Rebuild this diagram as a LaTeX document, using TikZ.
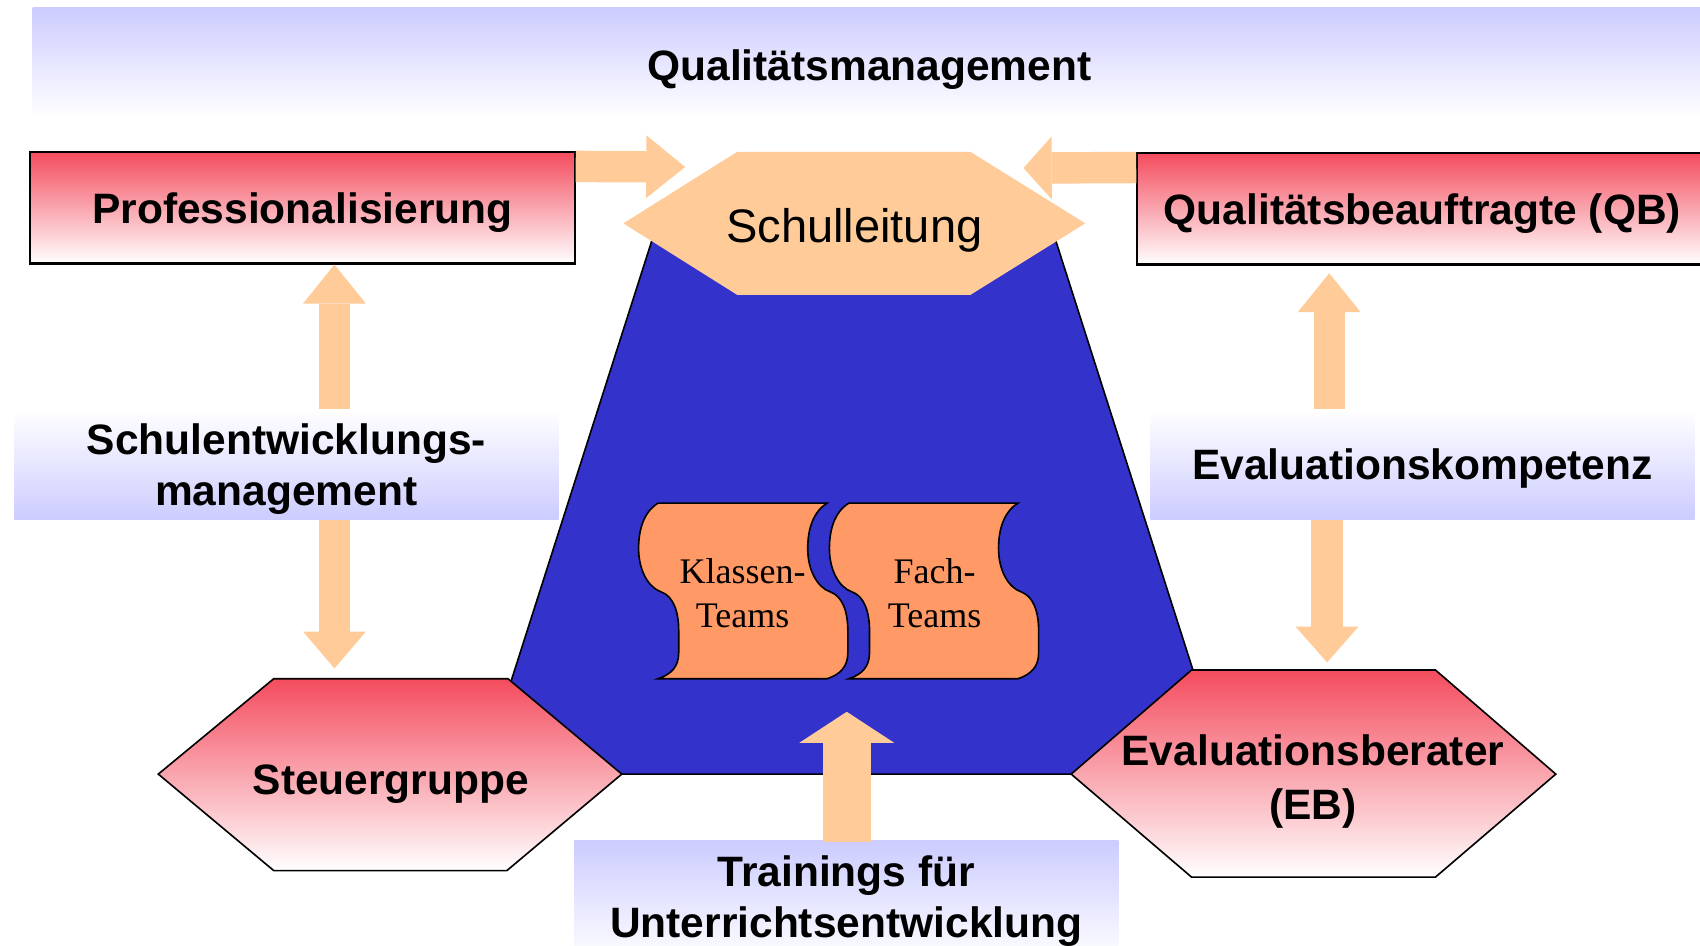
\documentclass[tikz,border=0pt]{standalone}
\usepackage{fontspec}
\newfontfamily\arialfont{Liberation Sans}
\newfontfamily\timesfont{Liberation Serif}
\usetikzlibrary{arrows.meta}

\definecolor{peach}{RGB}{255,204,153}
\definecolor{lavender}{RGB}{204,204,255}
\definecolor{redtop}{RGB}{244,76,94}
\definecolor{pyramidblue}{RGB}{51,51,204}
\definecolor{tapeorange}{RGB}{255,153,102}

\begin{document}
\begin{tikzpicture}[x=0.5pt, y=-0.5pt,
    boldtext/.style={font=\arialfont\bfseries\fontsize{19.6}{23.5}\selectfont},
    rolebox/.style={rectangle, draw=black, line width=1pt, top color=redtop, bottom color=white,
        minimum width=251pt, minimum height=51.5pt, inner sep=0pt, text height=16.5pt, text depth=2pt, boldtext},
    redhex/.style={draw=black, line width=0.75pt, top color=redtop, bottom color=white},
    fieldbox/.style={rectangle, inner sep=0pt, minimum width=251pt, minimum height=50.5pt, boldtext, align=center},
    flowarrow/.style={draw=peach, line width=14.5pt, -{Triangle[length=#1, width=29pt, line width=0pt]}},
    flowarrow/.default=18pt,
    tape/.style={draw=black, line width=0.75pt, fill=tapeorange},
    teamtext/.style={font=\timesfont\fontsize{16.6}{20.5}\selectfont, align=center},
   ]

    \fill[white] (0,0) rectangle (1568,872);
    \useasboundingbox (0,0) rectangle (1568,872);

    % band on top
    \shade[top color=lavender, bottom color=white] (30,7) rectangle (1580,108);
    \node (qm) [boldtext] at (802,64.5) {Qualitätsmanagement};

    % blue pyramid
    \filldraw[fill=pyramidblue, draw=black, line width=0.75pt] (606,207) -- (444,714) -- (1131,714) -- (969,207) -- cycle;

    % Schulleitung
    \fill[peach] (575,206) -- (680,140) -- (895,140) -- (1001,206) -- (895,272) -- (680,272) -- cycle;
    \node (sl) [font=\arialfont\fontsize{21.7}{26}\selectfont] at (788,212) {Schulleitung};

    % hexagons below
    \path[redhex] (146,714) -- (252.5,626) -- (468.5,626) -- (573.5,714) -- (467.5,803) -- (252.5,803) -- cycle;
    \node (sg) [boldtext] at (360.5,723) {Steuergruppe};
    \path[redhex] (988,714) -- (1099,618) -- (1324,618) -- (1435,714) -- (1324,809) -- (1099,809) -- cycle;
    \node (eb) [boldtext, font=\arialfont\bfseries\fontsize{19.6}{25}\selectfont, align=center] at (1211,720.5) {Evaluationsberater\\(EB)};

    % red boxes
    \node (prof) [rolebox] at (279,191.5) {Professionalisierung};
    \node (qb) [rolebox, minimum width=263pt] at (1312,192.5) {Qualitätsbeauftragte (QB)};

    % lavender fields
    \node (semBox) [fieldbox, top color=white, bottom color=lavender] at (264.25,428.5) {};
    \node (sem) [boldtext, align=center] at (264,433) {Schulentwicklungs-\\management};
    \node (eko) [fieldbox, top color=white, bottom color=lavender, text height=16pt, text depth=2.5pt] at (1312,428.5) {Evaluationskompetenz};
    \node (train) [fieldbox, top color=lavender, bottom color=white, minimum height=55.5pt] at (780.5,831) {Trainings für\\Unterrichtsentwicklung};

    % arrow tips
    \coordinate (profTip) at (632,154);
    \coordinate (qbTip) at (944,155);
    \coordinate (semCol) at (308.5,0);
    \coordinate (sgTip) at (308.5,616.5);
    \coordinate (qbUpTip) at (1226,252);
    \coordinate (ebTip) at (1224,611);
    \coordinate (trainTip) at (781,656.5);

    \draw[flowarrow] ([yshift=-7.25pt]prof.north east) -- (profTip);
    \draw[flowarrow=13pt] ([yshift=-7.25pt]qb.north west) -- (qbTip);
    \draw[flowarrow] (semBox.north -| semCol) -- (prof.south -| semCol);
    \draw[flowarrow=17pt] (semBox.south -| sgTip) -- (sgTip);
    \draw[flowarrow] (eko.north -| qbUpTip) -- (qbUpTip);
    \draw[flowarrow=16.5pt] (eko.south -| ebTip) -- (ebTip);
    \draw[flowarrow, line width=22pt, -{Triangle[length=14.3pt, width=43.7pt, line width=0pt]}] ([yshift=-0.75pt]train.north -| trainTip) -- (trainTip);

    % teams
    \foreach \tx in {607,783}
      \filldraw[tape, shift={(\tx,464)}] (0,0) .. controls (-13,8) and (-18,24) .. (-18,42)
        .. controls (-18,62) and (-9,78) .. (3,82) .. controls (14,86) and (19,100) .. (19,118)
        -- (19,138) .. controls (19,151) and (12,158) .. (0,162) -- (156,162)
        .. controls (168,158) and (175,151) .. (175,138) -- (175,118)
        .. controls (175,100) and (170,86) .. (159,82) .. controls (147,78) and (138,62) .. (138,42)
        .. controls (138,24) and (143,8) .. (156,0) -- cycle;
    \node (kt) [teamtext] at (685,547.3) {Klassen-\\Teams};
    \node (ft) [teamtext] at (862,547.3) {Fach-\\Teams};
\end{tikzpicture}
\end{document}
